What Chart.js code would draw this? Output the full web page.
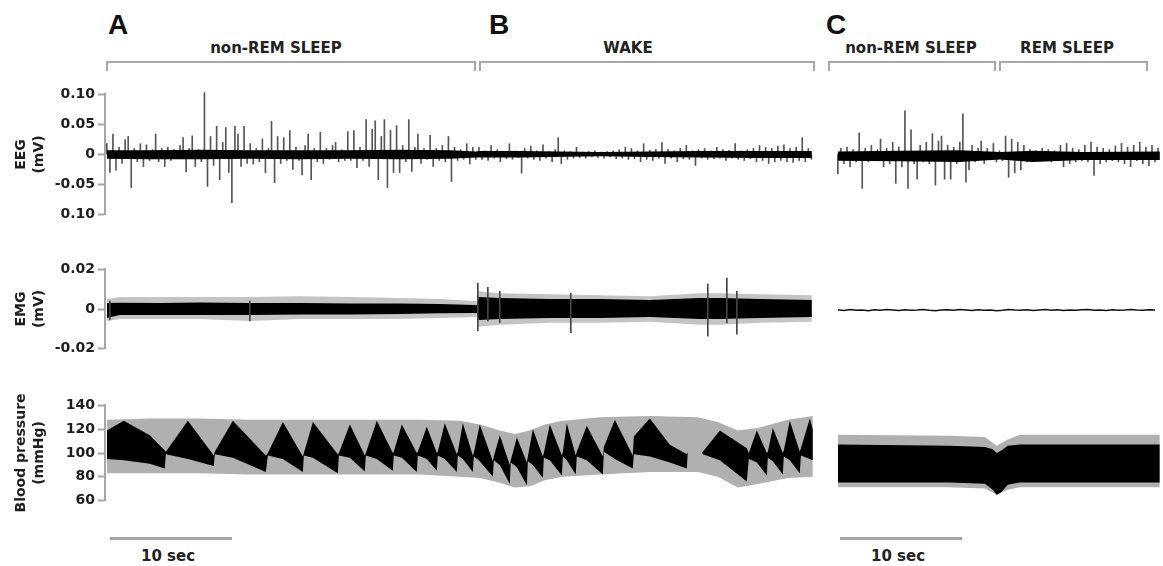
<!DOCTYPE html>
<html>
<head>
<meta charset="utf-8">
<script src="https://cdn.jsdelivr.net/npm/chart.js@4.4.1/dist/chart.umd.min.js"></script>
<style>
html,body{margin:0;padding:0;background:#fff;width:1163px;height:566px;overflow:hidden;position:relative;}
canvas{position:absolute;}
.lbl{position:absolute;font-family:"DejaVu Sans",sans-serif;font-weight:bold;font-size:15px;line-height:1;color:#222;white-space:nowrap;transform:translate(-50%,-50%);}
.letter{position:absolute;font-family:"Liberation Sans",Arial,sans-serif;font-weight:bold;font-size:28px;line-height:28px;color:#111;}
.ln{position:absolute;background:#a8a8a8;}
</style>
</head>
<body>
<div class="letter" style="left:108px;top:11px">A</div>
<div class="letter" style="left:489px;top:11px">B</div>
<div class="letter" style="left:826px;top:11px">C</div>

<div class="lbl" style="left:276px;top:48px">non-REM SLEEP</div>
<div class="lbl" style="left:628px;top:48px">WAKE</div>
<div class="lbl" style="left:911px;top:48px">non-REM SLEEP</div>
<div class="lbl" style="left:1067px;top:48px">REM SLEEP</div>

<!-- brackets -->
<div class="ln" style="left:106px;top:61px;width:370px;height:2px"></div>
<div class="ln" style="left:106px;top:61px;width:2px;height:10px"></div>
<div class="ln" style="left:474px;top:61px;width:2px;height:10px"></div>
<div class="ln" style="left:479px;top:61px;width:336px;height:2px"></div>
<div class="ln" style="left:479px;top:61px;width:2px;height:10px"></div>
<div class="ln" style="left:813px;top:61px;width:2px;height:10px"></div>
<div class="ln" style="left:828px;top:61px;width:168px;height:2px"></div>
<div class="ln" style="left:828px;top:61px;width:2px;height:10px"></div>
<div class="ln" style="left:994px;top:61px;width:2px;height:10px"></div>
<div class="ln" style="left:999px;top:61px;width:149px;height:2px"></div>
<div class="ln" style="left:999px;top:61px;width:2px;height:10px"></div>
<div class="ln" style="left:1146px;top:61px;width:2px;height:10px"></div>

<!-- scale bars -->
<div class="ln" style="left:110px;top:537px;width:122px;height:3px"></div>
<div class="lbl" style="left:168px;top:556px">10 sec</div>
<div class="ln" style="left:840px;top:537px;width:122px;height:3px"></div>
<div class="lbl" style="left:898px;top:556px">10 sec</div>

<canvas id="eegAB" width="815" height="143" style="left:0;top:83px"></canvas>
<canvas id="emgAB" width="815" height="102" style="left:0;top:258px"></canvas>
<canvas id="bpAB" width="815" height="118" style="left:0;top:394px"></canvas>
<canvas id="eegC" width="327" height="143" style="left:836px;top:83px"></canvas>
<canvas id="emgC" width="327" height="102" style="left:836px;top:258px"></canvas>
<canvas id="bpC" width="327" height="118" style="left:836px;top:394px"></canvas>

<script>
// ---------- axis ticks ----------
const eegTickValues = [-0.1, -0.05, 0, 0.05, 0.1];
const eegTickLabels = ['0.10', '-0.05', '0', '0.05', '0.10'];
const emgTickValues = [-0.02, 0, 0.02];
const emgTickLabels = ['-0.02', '0', '0.02'];
const bpTickValues = [60, 80, 100, 120, 140];
const bpTickLabels = ['60', '80', '100', '120', '140'];

// ---------- EEG (mV): spike samples every 0.25 s ----------
const eegDt = 0.25;
const eegAB = [
0.018,-0.03,0.034,-0.026,0.012,-0.015,0.025,0.03,-0.055,0.01,
-0.012,0.018,-0.02,0.016,-0.01,0.008,0.034,-0.012,0.01,-0.02,
0.012,-0.01,0.008,-0.006,0.015,0.028,-0.029,0.01,0.031,-0.02,
0.008,-0.012,0.103,-0.053,0.03,-0.018,0.047,-0.042,0.02,0.045,
-0.03,-0.08,0.047,0.034,-0.02,0.047,-0.015,0.018,-0.016,0.01,
-0.012,0.026,-0.03,0.01,0.055,-0.047,0.03,-0.015,0.028,-0.01,
0.04,-0.025,0.012,-0.01,-0.034,0.015,0.034,-0.042,0.01,-0.012,
0.037,-0.015,0.01,-0.008,0.015,0.02,-0.012,0.008,-0.01,0.038,
-0.01,0.04,-0.022,0.012,-0.01,0.058,-0.02,0.042,0.056,-0.042,
0.03,0.058,-0.055,0.04,-0.03,0.048,-0.03,0.015,-0.012,0.058,
-0.028,0.012,0.034,-0.015,0.01,-0.008,0.032,-0.02,0.01,-0.01,
0.015,-0.012,0.03,-0.045,0.012,-0.01,0.008,-0.008,0.018,-0.016,0.012,-0.008,
0.012,-0.008,0.006,-0.01,0.015,-0.006,0.008,-0.012,0.005,-0.007,
0.018,-0.008,0.006,-0.005,-0.031,0.01,-0.006,0.014,-0.008,0.006,
-0.01,0.016,-0.006,0.005,-0.012,0.008,0.028,-0.015,0.006,-0.008,
0.005,-0.006,0.012,-0.005,0.004,-0.006,0.005,-0.004,0.006,-0.005,
0.004,-0.006,0.005,-0.004,0.006,-0.007,0.008,-0.006,0.012,-0.008,
0.01,-0.007,0.006,-0.012,0.018,-0.008,0.007,-0.01,0.008,-0.006,
0.02,-0.015,0.008,-0.006,0.006,-0.012,0.01,-0.007,0.015,-0.008,
0.006,-0.018,0.008,-0.006,0.01,-0.008,0.006,-0.007,0.012,-0.006,
0.008,-0.01,0.007,-0.006,0.018,-0.008,0.006,-0.01,0.008,-0.007,
0.01,-0.012,0.015,-0.01,0.012,-0.015,0.01,-0.012,0.014,-0.01,
0.016,-0.012,0.01,-0.013,0.012,-0.01,0.028,-0.012,0.01,-0.008
];
const eegC = [
-0.031,0.01,-0.015,0.012,-0.02,0.008,-0.012,0.035,-0.055,0.01,
-0.012,0.015,-0.01,0.008,0.025,-0.02,0.01,-0.015,0.02,-0.047,
0.012,-0.02,0.071,-0.055,0.04,-0.015,-0.04,0.015,-0.012,0.02,
-0.015,0.034,-0.05,0.022,0.03,-0.04,0.015,-0.04,0.012,-0.015,
0.02,0.066,-0.045,-0.025,0.015,-0.012,0.01,0.022,-0.015,0.01,
-0.008,0.018,-0.012,0.006,-0.01,0.03,-0.037,0.025,-0.03,0.02,
-0.025,0.015,-0.012,0.008,-0.01,0.006,-0.008,0.01,-0.006,0.008,
-0.012,0.006,-0.008,0.015,-0.02,0.018,-0.015,0.01,-0.012,0.008,
-0.01,0.015,-0.012,0.02,-0.034,0.012,-0.015,0.01,-0.012,0.008,
-0.01,0.014,-0.012,0.018,-0.015,0.012,-0.02,0.015,-0.01,0.02,
-0.015,0.012,-0.018,0.015,-0.012,0.01
];
// dense black core of the EEG trace (envelope, times in s)
const eegCoreT  = [0, 3.52, 7.62, 11.72, 15.82, 19.92, 24.02, 28.11, 30.25, 30.49, 33.85, 40.41, 44.51, 48.61, 53.52, 57.79];
const eegCoreHi = [0.007, 0.007, 0.008, 0.007, 0.007, 0.007, 0.008, 0.007, 0.005, 0.006, 0.006, 0.004, 0.005, 0.006, 0.006, 0.006];
const eegCoreLo = [-0.007, -0.008, -0.008, -0.007, -0.008, -0.007, -0.008, -0.007, -0.005, -0.005, -0.005, -0.003, -0.004, -0.005, -0.006, -0.006];
const eegCCoreT  = [0, 5, 10, 13.3, 16, 20, 26.4];
const eegCCoreHi = [0.005, 0.006, 0.007, 0.004, 0.006, 0.004, 0.005];
const eegCCoreLo = [-0.01, -0.011, -0.012, -0.008, -0.012, -0.009, -0.009];

// ---------- EMG (mV) envelopes, times in s ----------
const emgT       = [0, 1.07, 4.34, 7.62, 11.72, 15.82, 19.92, 24.02, 27.3, 30.08, 30.33, 30.49, 32.21, 36.31, 40.41, 44.51, 48.61, 50.25, 53.52, 57.79];
const emgGrayHi  = [0.005, 0.006, 0.006, 0.006, 0.006, 0.0065, 0.006, 0.0055, 0.005, 0.004, 0.004, 0.009, 0.008, 0.0075, 0.007, 0.0065, 0.008, 0.008, 0.0075, 0.007];
const emgGrayLo  = [-0.006, -0.005, -0.005, -0.005, -0.006, -0.005, -0.005, -0.005, -0.0045, -0.004, -0.004, -0.009, -0.008, -0.007, -0.007, -0.0065, -0.008, -0.008, -0.007, -0.0065];
const emgBlackHi = [0.003, 0.0032, 0.003, 0.0033, 0.003, 0.003, 0.0028, 0.0028, 0.0025, 0.002, 0.002, 0.006, 0.0055, 0.005, 0.005, 0.0045, 0.0055, 0.0055, 0.005, 0.0045];
const emgBlackLo = [-0.0045, -0.003, -0.003, -0.003, -0.003, -0.0028, -0.0028, -0.0025, -0.0022, -0.002, -0.002, -0.0055, -0.005, -0.0045, -0.0045, -0.004, -0.005, -0.005, -0.0045, -0.004];
const emgSpikeT  = [0.25, 11.72, 30.41, 31.23, 32.21, 38.03, 49.26, 50.82, 51.64];
const emgSpikeLo = [-0.0055, -0.006, -0.011, -0.006, -0.007, -0.012, -0.0137, -0.007, -0.0127];
const emgSpikeHi = [0.004, 0.004, 0.013, 0.011, 0.009, 0.008, 0.0127, 0.0156, 0.009];
const emgCDt = 0.5;
const emgC = [
-0.0004,-0.0007,-0.0003,-0.0006,-0.0005,-0.0008,-0.0004,-0.0006,-0.0003,-0.0005,
-0.0007,-0.0004,-0.0006,-0.0005,-0.0003,-0.0006,-0.0008,-0.0005,-0.0004,-0.0006,
-0.0003,-0.0005,-0.0007,-0.0004,-0.0006,-0.0005,-0.0008,-0.0006,-0.0003,-0.0005,
-0.0006,-0.0004,-0.0007,-0.0005,-0.0003,-0.0006,-0.0004,-0.0007,-0.0005,-0.0006,
-0.0004,-0.0003,-0.0006,-0.0005,-0.0007,-0.0004,-0.0006,-0.0005,-0.0003,-0.0005,
-0.0006,-0.0004,-0.0005
];

// ---------- Blood pressure (mmHg) envelopes, times in s ----------
const bpGrayT  = [0, 3.52, 7.62, 11.72, 15.82, 19.92, 25.66, 28.93, 30.57, 32.21, 33.44, 34.67, 35.9, 37.38, 40.41, 44.51, 48.44, 50.08, 51.72, 53.36, 55.82, 57.87];
const bpGrayHi = [128, 129, 129, 128, 128, 128, 128, 127, 124, 119, 116, 119, 124, 127, 130, 131, 130, 126, 119, 121, 128, 131];
const bpGrayLo = [83, 83, 83, 82, 82, 82, 82, 80, 79, 75, 71, 72, 77, 80, 82, 84, 84, 80, 71, 74, 79, 80];
const bpBlackT = [
0, 1.39, 3.52, 4.75,  4.84, 6.64, 8.77,  8.85, 10.33, 13.03,  13.2, 14.43, 16.07,
16.15, 16.89, 18.93,  19.02, 19.92, 21.15,  21.23, 22.13, 23.44,  23.52, 24.18, 25.41,
25.49, 26.23, 27.05,  27.13, 27.7, 28.69,  28.77, 29.18, 30.0,  30.08, 30.57, 31.64,
31.72, 32.21, 33.03,  33.11, 33.61, 34.43,  34.51, 34.92, 35.74,  35.82, 36.31, 37.3,
37.38, 37.7, 38.44,  38.52, 39.34, 40.66,  40.74, 41.64, 43.11,  43.2, 44.51, 46.15, 47.54,
47.62, 48.77,  48.85, 50.25, 52.46,  52.62, 53.28, 54.1,  54.18, 54.59, 55.41,
55.49, 55.98, 56.8,  56.89, 57.62, 57.87
];
const bpBlackHi = [
119, 127, 115, 102,  101, 127, 98,  101, 127, 98,  100, 126, 97,
100, 126, 99,  100, 124, 98,  100, 127, 100,  101, 124, 100,
101, 122, 100,  101, 125, 99,  101, 125, 98,  100, 124, 93,
97, 115, 90,  94, 113, 92,  97, 120, 97,  100, 124, 98,
101, 125, 98,  101, 123, 97,  105, 128, 98,  114, 129, 107, 99,
101, 101,  101, 119, 104,  100, 119, 100,  101, 121, 100,
102, 127, 101,  104, 129, 120
];
const bpBlackLo = [
95, 94, 91, 87,  99, 95, 89,  99, 96, 84,  98, 95, 84,
98, 96, 83,  98, 96, 84.5,  98, 95, 85,  98, 96, 84,
98, 95, 85,  98, 95, 84,  98, 95, 84,  97, 93, 80,
94, 90, 74,  92, 88, 73,  93, 90, 79,  96, 94, 81,
97, 94, 82,  97, 94, 82,  101, 95, 87,  99, 97, 92, 87,
101, 101,  99, 94, 76,  95, 92, 81,  96, 93, 82,
97, 94, 83,  98, 95, 94
];
const bpCGrayT  = [0, 9.18, 12.05, 13.03, 13.93, 14.92, 26.39];
const bpCGrayHi = [115, 114, 113, 106, 111, 115, 115];
const bpCGrayLo = [72, 72, 71, 66, 70, 72, 72];
const bpCBlackT  = [0, 9.18, 12.05, 12.7, 13.03, 13.4, 13.93, 14.92, 26.39];
const bpCBlackHi = [107, 106, 105, 103, 100, 102, 106, 107, 107];
const bpCBlackLo = [76, 76, 75, 70, 66, 68, 74, 76, 76];

// ---------- helpers ----------
const AXIS_GRAY = '#a6a6a6';
const FONT = {family: '"DejaVu Sans", sans-serif', weight: 'bold', size: 14};
const pts = (ts, vs) => ts.map((t, i) => ({x: t, y: vs[i]}));
const seq = (vs, dt) => vs.map((v, i) => ({x: i * dt, y: v}));
const bars = (ts, lo, hi) => ts.map((t, i) => ({x: t, y: [lo[i], hi[i]]}));

function yAxis(min, max, vals, labels, title) {
  if (!vals) return {display: false, min, max};
  return {
    min, max,
    afterFit(s) { s.width = 105; },
    afterBuildTicks(s) { s.ticks = vals.map(v => ({value: v})); },
    ticks: {font: FONT, color: '#1e1e1e', padding: 3, callback: v => labels[vals.indexOf(v)]},
    grid: {drawOnChartArea: false, drawTicks: true, tickLength: 7, tickColor: AXIS_GRAY, tickWidth: 2, color: AXIS_GRAY},
    border: {display: true, color: AXIS_GRAY, width: 2},
    title: {display: true, text: title, font: Object.assign({}, FONT, {lineHeight: 1.25}), color: '#1e1e1e', padding: {top: 13, bottom: 0}}
  };
}

function makeChart(id, datasets, xmax, yopts) {
  new Chart(document.getElementById(id), {
    type: 'line',
    data: {datasets},
    options: {
      responsive: false, animation: false, devicePixelRatio: 1, events: [],
      layout: {padding: {top: 10, bottom: 10, left: 0, right: 0}},
      plugins: {legend: {display: false}, tooltip: {enabled: false}},
      elements: {point: {radius: 0}, line: {tension: 0}},
      scales: {
        x: {type: 'linear', display: false, min: -0.15, max: xmax, offset: false, grid: {offset: false}},
        y: yopts
      }
    }
  });
}

const line = (data, color, width) => ({type: 'line', data, borderColor: color, borderWidth: width, pointRadius: 0, fill: false, clip: false});
const spikes = (data, color, order) => ({type: 'bar', data, backgroundColor: color, barThickness: 1, borderWidth: 0, order, clip: false});
const bandHi = (data, color, order) => ({type: 'line', data, borderWidth: 0, borderColor: color, backgroundColor: color, pointRadius: 0, fill: '+1', order});
const bandLo = (data, color, order) => ({type: 'line', data, borderWidth: 0, borderColor: color, pointRadius: 0, fill: false, order});

const XMAX_AB = -0.15 + 710 / 12.2;
const XMAX_C = -0.15 + 327 / 12.2;

// EEG
makeChart('eegAB', [
  bandHi(pts(eegCoreT, eegCoreHi), '#000', 0),
  bandLo(pts(eegCoreT, eegCoreLo), '#000', 0),
  spikes(seq(eegAB, eegDt), '#555', 1)
], XMAX_AB, yAxis(-0.1, 0.1, eegTickValues, eegTickLabels, ['EEG', '(mV)']));
makeChart('eegC', [
  bandHi(pts(eegCCoreT, eegCCoreHi), '#000', 0),
  bandLo(pts(eegCCoreT, eegCCoreLo), '#000', 0),
  spikes(seq(eegC, eegDt), '#555', 1)
], XMAX_C, yAxis(-0.1, 0.1));

// EMG
makeChart('emgAB', [
  spikes(bars(emgSpikeT, emgSpikeLo, emgSpikeHi), '#444', 0),
  bandHi(pts(emgT, emgBlackHi), '#000', 1),
  bandLo(pts(emgT, emgBlackLo), '#000', 1),
  bandHi(pts(emgT, emgGrayHi), '#c4c4c4', 2),
  bandLo(pts(emgT, emgGrayLo), '#c4c4c4', 2)
], XMAX_AB, yAxis(-0.02, 0.02, emgTickValues, emgTickLabels, ['EMG', '(mV)']));
makeChart('emgC', [line(seq(emgC, emgCDt), '#111', 1.5)], XMAX_C, yAxis(-0.02, 0.02));

// Blood pressure
makeChart('bpAB', [
  bandHi(pts(bpBlackT, bpBlackHi), '#000', 1),
  bandLo(pts(bpBlackT, bpBlackLo), '#000', 1),
  bandHi(pts(bpGrayT, bpGrayHi), '#b0b0b0', 2),
  bandLo(pts(bpGrayT, bpGrayLo), '#b0b0b0', 2)
], XMAX_AB, yAxis(60, 140, bpTickValues, bpTickLabels, ['Blood pressure', '(mmHg)']));
makeChart('bpC', [
  bandHi(pts(bpCBlackT, bpCBlackHi), '#000', 1),
  bandLo(pts(bpCBlackT, bpCBlackLo), '#000', 1),
  bandHi(pts(bpCGrayT, bpCGrayHi), '#b0b0b0', 2),
  bandLo(pts(bpCGrayT, bpCGrayLo), '#b0b0b0', 2)
], XMAX_C, yAxis(60, 140));
</script>
</body>
</html>
